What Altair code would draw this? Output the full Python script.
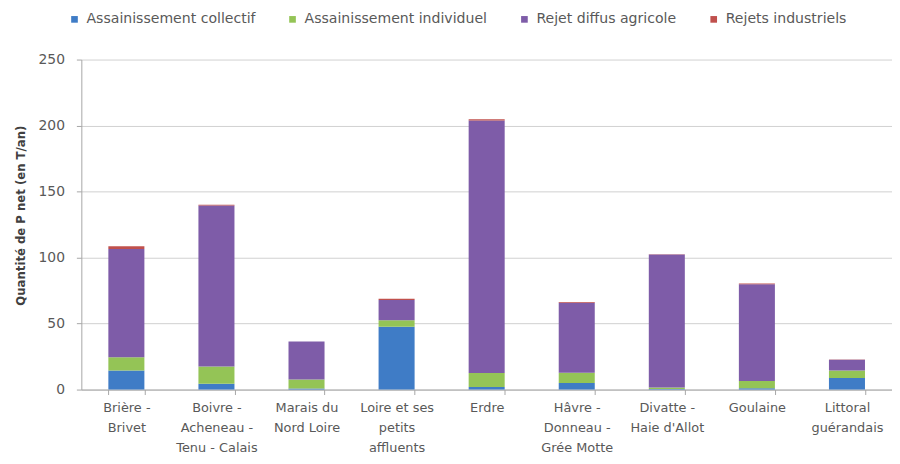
import altair as alt
import pandas as pd

categories = [
    "Brière -|Brivet",
    "Boivre -|Acheneau -|Tenu - Calais",
    "Marais du|Nord Loire",
    "Loire et ses|petits|affluents",
    "Erdre",
    "Hâvre -|Donneau -|Grée Motte",
    "Divatte -|Haie d'Allot",
    "Goulaine",
    "Littoral|guérandais",
]
series = ["Assainissement collectif", "Assainissement individuel",
          "Rejet diffus agricole", "Rejets industriels"]
collectif = [14.5, 4.5, 0.8, 47.5, 2.0, 5.0, 0.5, 1.0, 8.8]
individuel = [10.0, 13.0, 6.8, 5.0, 10.5, 7.8, 1.0, 5.5, 5.7]
agricole = [82.0, 122.0, 28.9, 15.3, 191.3, 53.0, 100.8, 73.3, 8.0]
industriels = [2.0, 0.5, 0.0, 1.0, 1.0, 0.5, 0.2, 0.5, 0.2]
colors = ["#3F7CC6", "#94C456", "#7E5CA8", "#C0504D"]

rows = []
for si, (name, vals) in enumerate(zip(series, [collectif, individuel, agricole, industriels])):
    for c, v in zip(categories, vals):
        rows.append({"cat": c, "serie": name, "val": v, "ord": si})
df = pd.DataFrame(rows)

FONT = "DejaVu Sans"
TXT = "#595959"

chart = alt.Chart(df).mark_bar().encode(
    x=alt.X("cat:N", sort=categories, title=None,
            scale=alt.Scale(paddingInner=0.6, paddingOuter=0.3),
            axis=alt.Axis(labelAngle=0, labelExpr="split(datum.label, '|')",
                          labelFont=FONT, labelFontSize=13, labelColor=TXT,
                          labelLineHeight=20, labelPadding=7, labelBaseline="top",
                          tickBand="extent", tickSize=5, tickColor="#A6A6A6",
                          domainColor="#A6A6A6", grid=False)),
    y=alt.Y("val:Q", stack="zero", title="Quantité de P net (en T/an)",
            scale=alt.Scale(domain=[0, 250], nice=False),
            axis=alt.Axis(values=[0, 50, 100, 150, 200, 250], tickSize=5,
                          labelPadding=12, labelFont=FONT, labelFontSize=14,
                          labelColor=TXT, tickColor="#A6A6A6", domainColor="#A6A6A6",
                          gridColor="#D0D0D0", titleFont=FONT, titleFontSize=11.8,
                          titleFontWeight="bold", titleColor="#404040",
                          titlePadding=12, titleY=157)),
    color=alt.Color("serie:N", sort=series,
                    scale=alt.Scale(domain=series, range=colors),
                    legend=alt.Legend(title=None, orient="none", direction="horizontal",
                                      legendX=-14, legendY=-48, symbolType="square",
                                      symbolSize=45, symbolStrokeWidth=0,
                                      columnPadding=30, labelFont=FONT,
                                      labelFontSize=14.2, labelColor=TXT,
                                      labelOffset=5, labelLimit=400, padding=0)),
    order=alt.Order("ord:Q", sort="ascending"),
).properties(
    width=818, height=333,
    padding={"left": 74, "top": 50, "right": 0, "bottom": 65},
    autosize=alt.AutoSizeParams(type="none"),
).configure_view(stroke=None)

chart.save("out.html", embed_options={"renderer": "svg", "actions": False})
